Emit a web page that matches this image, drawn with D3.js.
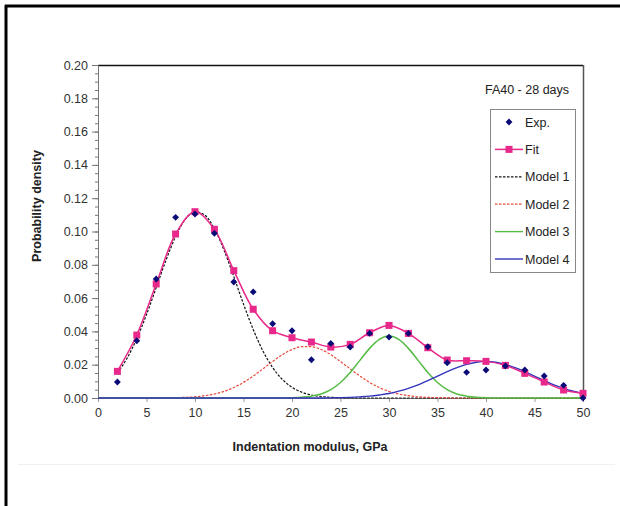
<!DOCTYPE html>
<html><head><meta charset="utf-8">
<script src="https://cdn.jsdelivr.net/npm/d3@7"></script>
<style>body{margin:0;background:#fff}svg{display:block}text{font-family:Arial,"Liberation Sans",sans-serif}</style>
</head><body><svg id="c" width="620" height="506"></svg>
<script>
// Data
const xExp = [2,4,6,8,10,12,14,16,18,20,22,24,26,28,30,32,34,36,38,40,42,44,46,48,50];
const expVals = [0.0096,0.0344,0.0715,0.1085,0.1105,0.0989,0.0697,0.0637,0.0446,0.0404,0.0230,0.0328,0.0306,0.0388,0.0366,0.0388,0.0308,0.0212,0.0154,0.0168,0.0192,0.0168,0.0132,0.0076,0.0000];
const fitVals = [0.0160,0.0378,0.0685,0.0985,0.1119,0.1013,0.0765,0.0533,0.0404,0.0362,0.0336,0.0306,0.0322,0.0392,0.0436,0.0388,0.0302,0.0228,0.0224,0.0220,0.0196,0.0148,0.0096,0.0048,0.0028];
const xModel = d3.range(0,51);
const model1 = [null,null,0.0151,0.0239,0.0357,0.0501,0.0663,0.0826,0.0970,0.1073,0.1119,0.1099,0.1017,0.0887,0.0729,0.0564,0.0412,0.0283,0.0183,0.0112,0.0064,0.0035,0.0018,0.0009,0.0004,0.0002,0,0,0,0,0,0,0,0,0,0,0,0,0,0,0,0,0,0,0,0,0,0,0,0,0];
const model2 = [0,0,0,0,0,0,0.0001,0.0001,0.0002,0.0004,0.0007,0.0014,0.0024,0.0040,0.0063,0.0094,0.0132,0.0175,0.0219,0.0260,0.0291,0.0308,0.0308,0.0291,0.0260,0.0219,0.0175,0.0132,0.0094,0.0063,0.0040,0.0024,0.0014,0.0007,0.0004,0.0002,0.0001,0,0,0,0,0,0,0,0,0,0,0,0,0,0];
const model3 = [0,0,0,0,0,0,0,0,0,0,0,0,0,0,0,0,0,0,0,0,0.0001,0.0004,0.0011,0.0024,0.0050,0.0093,0.0153,0.0226,0.0298,0.0352,0.0372,0.0352,0.0298,0.0226,0.0153,0.0093,0.0050,0.0024,0.0011,0.0004,0.0001,0,0,0,0,0,0,0,0,0,0];
const model4 = [0,0,0,0,0,0,0,0,0,0,0,0,0,0,0,0,0,0,0,0,0,0,0,0,0.0001,0.0002,0.0004,0.0007,0.0011,0.0018,0.0027,0.0041,0.0058,0.0079,0.0104,0.0131,0.0158,0.0182,0.0202,0.0215,0.0220,0.0215,0.0202,0.0182,0.0158,0.0131,0.0104,0.0079,0.0058,0.0041,0.0027];
const xTicks = [0,5,10,15,20,25,30,35,40,45,50];
const yTicks = [0,0.02,0.04,0.06,0.08,0.10,0.12,0.14,0.16,0.18,0.20];
const title = "FA40 - 28 days";
const legendLabels = ["Exp.","Fit","Model 1","Model 2","Model 3","Model 4"];

const C = {exp:"#0b0b78", fit:"#e8288a", m1:"#111", m2:"#e8473a", m3:"#55bb44", m4:"#3333bb"};

const svg = d3.select("#c");
// outer frame
svg.append("line").attr("x1",6).attr("x2",6).attr("y1",5).attr("y2",506).attr("stroke","#000").attr("stroke-width",3);
svg.append("line").attr("x1",5).attr("x2",620).attr("y1",6).attr("y2",6).attr("stroke","#000").attr("stroke-width",3);
svg.append("line").attr("x1",18).attr("x2",615).attr("y1",464.5).attr("y2",464.5).attr("stroke","#f0f0f0").attr("stroke-width",1);

const L=98,R=583,T=65,B=398;
const x = d3.scaleLinear().domain([0,50]).range([L,R]);
const y = d3.scaleLinear().domain([0,0.20]).range([B,T]);

// plot border top/right
svg.append("line").attr("x1",L).attr("x2",R).attr("y1",T+0.5).attr("y2",T+0.5).attr("stroke","#111").attr("stroke-width",1.5);
svg.append("line").attr("x1",R+0.5).attr("x2",R+0.5).attr("y1",T).attr("y2",B).attr("stroke","#555").attr("stroke-width",1.5);

// y axis
const yMinor = d3.range(0,0.2001,0.005);
const gy = svg.append("g").attr("transform",`translate(${L},0)`);
gy.call(d3.axisLeft(y).tickValues(yMinor).tickSize(3).tickFormat(""));
gy.call(g=>g.selectAll(".domain").remove());
const gy2 = svg.append("g").attr("transform",`translate(${L},0)`);
gy2.call(d3.axisLeft(y).tickValues(yTicks).tickSize(6).tickPadding(4).tickFormat(d3.format(".2f")));
svg.selectAll("g .tick line").attr("stroke","#777");
gy2.select(".domain").attr("stroke","#777");
gy2.selectAll("text").attr("font-size",12.5).attr("fill","#333").attr("font-family","Arial, 'Liberation Sans', sans-serif");

// x axis
const gx = svg.append("g").attr("transform",`translate(0,${B})`);
gx.call(d3.axisBottom(x).tickValues(xTicks).tickSize(4).tickPadding(6).tickFormat(d3.format("d")));
gx.select(".domain").attr("stroke","#777");
gx.selectAll(".tick line").attr("stroke","#999");
gx.selectAll("text").attr("font-size",12.5).attr("fill","#333").attr("font-family","Arial, 'Liberation Sans', sans-serif");

// axis titles
svg.append("text").attr("x",310).attr("y",451).attr("text-anchor","middle").attr("font-size",12.5).attr("font-weight","bold").attr("fill","#222").text("Indentation modulus, GPa");
svg.append("text").attr("transform","translate(41,206) rotate(-90)").attr("text-anchor","middle").attr("font-size",12.5).attr("font-weight","bold").attr("fill","#222").text("Probability density");

// model lines
const line = (arr)=> d3.line().defined((d,i)=>arr[i]!==null).x((d,i)=>x(xModel[i])).y((d,i)=>y(arr[i])).curve(d3.curveMonotoneX)(arr);
svg.append("path").attr("d",line(model1)).attr("fill","none").attr("stroke",C.m1).attr("stroke-width",1.2).attr("stroke-dasharray","2.5,1.5");
svg.append("path").attr("d",line(model2)).attr("fill","none").attr("stroke",C.m2).attr("stroke-width",1.2).attr("stroke-dasharray","2.5,1.5");
svg.append("path").attr("d",line(model3)).attr("fill","none").attr("stroke",C.m3).attr("stroke-width",1.5);
svg.append("path").attr("d",line(model4)).attr("fill","none").attr("stroke",C.m4).attr("stroke-width",1.4);

// fit
const fitLine = d3.line().x((d,i)=>x(xExp[i])).y(d=>y(d)).curve(d3.curveCatmullRom.alpha(0.5));
svg.append("path").attr("d",fitLine(fitVals)).attr("fill","none").attr("stroke",C.fit).attr("stroke-width",1.5);
svg.selectAll("rect.fit").data(fitVals).join("rect").attr("class","fit")
  .attr("x",(d,i)=>x(xExp[i])-3.5).attr("y",d=>y(d)-3.5).attr("width",7).attr("height",7).attr("fill",C.fit);

// exp diamonds
const diamond = d3.symbol().type(d3.symbolDiamond2).size(30);
svg.selectAll("path.exp").data(expVals).join("path").attr("class","exp")
  .attr("d",diamond).attr("transform",(d,i)=>`translate(${x(xExp[i])},${y(d)})`).attr("fill",C.exp);

// title and legend
svg.append("text").attr("x",527).attr("y",94).attr("text-anchor","middle").attr("font-size",12.5).attr("fill","#222").text(title);
svg.append("rect").attr("x",490.5).attr("y",109.5).attr("width",85).attr("height",163).attr("fill","#fff").attr("stroke","#888");
const ly0=122, ldy=27.4, lx1=495, lx2=523;
legendLabels.forEach((lab,i)=>{
  const yy = ly0+i*ldy;
  const g = svg.append("g");
  if(i===0){ g.append("path").attr("d",diamond).attr("transform",`translate(${(lx1+lx2)/2},${yy})`).attr("fill",C.exp); }
  else if(i===1){ g.append("line").attr("x1",lx1).attr("x2",lx2).attr("y1",yy).attr("y2",yy).attr("stroke",C.fit).attr("stroke-width",1.5);
    g.append("rect").attr("x",(lx1+lx2)/2-3.5).attr("y",yy-3.5).attr("width",7).attr("height",7).attr("fill",C.fit); }
  else {
    const col=[C.m1,C.m2,C.m3,C.m4][i-2];
    const l=g.append("line").attr("x1",lx1).attr("x2",lx2).attr("y1",yy).attr("y2",yy).attr("stroke",col).attr("stroke-width",i<4?1.2:1.4);
    if(i<4) l.attr("stroke-dasharray","2.5,1.5");
  }
  g.append("text").attr("x",lx2+2).attr("y",yy+4.5).attr("font-size",12.5).attr("fill","#222").text(lab);
});
</script></body></html>
